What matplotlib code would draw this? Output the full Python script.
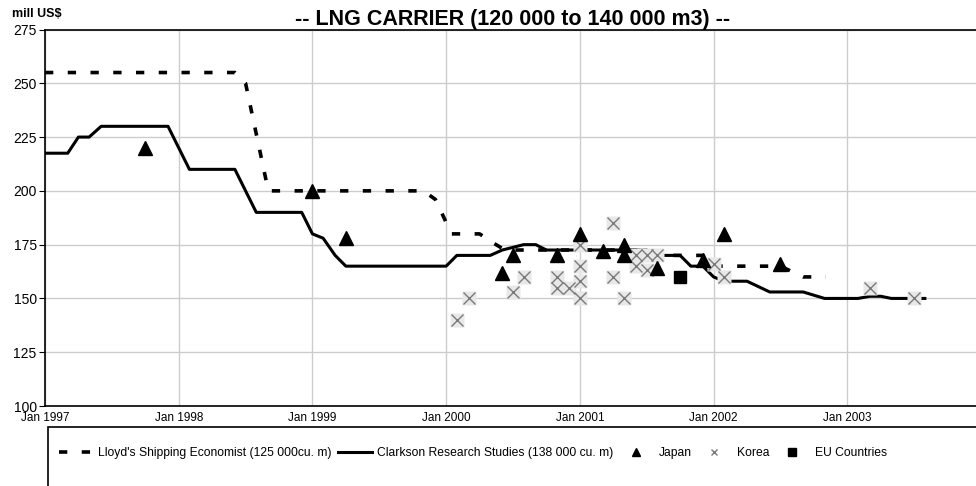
import matplotlib
matplotlib.use("Agg")
import matplotlib.pyplot as plt
from matplotlib.patches import Rectangle

plt.rcParams['font.family'] = ['Liberation Sans', 'DejaVu Sans']

# données (années décimales, millions US$)
years = [1997, 1998, 1999, 2000, 2001, 2002, 2003]
year_labels = ["Jan 1997", "Jan 1998", "Jan 1999", "Jan 2000", "Jan 2001", "Jan 2002", "Jan 2003"]
y_ticks = [100, 125, 150, 175, 200, 225, 250, 275]

lloyd_x = [1997.0, 1998.42, 1998.5, 1998.67, 1999.83, 1999.92, 2000.04, 2000.25, 2000.36,
           2000.44, 2001.42, 2001.5, 2001.92, 2002.0, 2002.5, 2002.67, 2002.84]
lloyd_y = [255, 255, 250, 200, 200, 196, 180, 180, 175.5,
           172.5, 172.5, 170, 170, 165, 165, 160, 160]

clarkson_x = [1997.0, 1997.17, 1997.25, 1997.33, 1997.42, 1997.92, 1998.08, 1998.42, 1998.58,
              1998.92, 1999.0, 1999.08, 1999.17, 1999.25, 2000.0, 2000.08, 2000.33, 2000.42,
              2000.58, 2000.67, 2000.75, 2001.5, 2001.58, 2001.75, 2001.83, 2001.92, 2002.0,
              2002.08, 2002.25, 2002.42, 2002.67, 2002.83, 2003.08, 2003.17, 2003.25, 2003.33,
              2003.58]
clarkson_y = [217.5, 217.5, 225, 225, 230, 230, 210, 210, 190,
              190, 180, 178, 170, 165, 165, 170, 170, 172.5,
              175, 175, 172.5, 172.5, 170, 170, 165, 165, 160,
              158, 158, 153, 153, 150, 150, 151, 151, 150,
              150]

japan_x = [1997.75, 1999.0, 1999.25, 2000.42, 2000.5, 2000.83, 2001.0, 2001.17, 2001.33,
           2001.33, 2001.58, 2001.92, 2002.08, 2002.5]
japan_y = [220, 200, 178, 162, 170, 170, 180, 172, 175, 170, 164, 168, 180, 166]

korea_x = [2000.08, 2000.17, 2000.5, 2000.58, 2000.83, 2000.83, 2000.92, 2001.0, 2001.0,
           2001.0, 2001.0, 2001.25, 2001.25, 2001.33, 2001.42, 2001.42, 2001.5, 2001.5,
           2001.58, 2002.0, 2002.08, 2003.17, 2003.5]
korea_y = [140, 150, 153, 160, 160, 155, 155, 175, 165,
           158, 150, 185, 160, 150, 170, 165, 170, 163,
           170, 166, 160, 155, 150]

eu_x = [2001.75]
eu_y = [160]

fig = plt.figure(figsize=(9.76, 4.86), dpi=100)
ax = fig.add_axes([45 / 976, 1 - 406 / 486, 936 / 976, 376.5 / 486])

ax.plot(lloyd_x, lloyd_y, color='black', lw=2.6, dashes=(2.3, 4.0),
        dash_capstyle='butt', label="Lloyd's Shipping Economist (125 000cu. m)", zorder=3)
ax.plot(clarkson_x, clarkson_y, color='black', lw=2.2, solid_joinstyle='round',
        label="Clarkson Research Studies (138 000 cu. m)", zorder=3)

# fond gris clair des croix (Corée)
ax.plot(korea_x, korea_y, ls='none', marker='s', ms=10, color='#e8e8e8', mec='none', zorder=4)
ax.plot(korea_x, korea_y, ls='none', marker='x', ms=8, mew=1.0, color='#7a7a7a',
        label="Korea", zorder=5)
ax.plot(japan_x, japan_y, ls='none', marker='^', ms=9.5, color='black', label="Japan", zorder=6)
ax.plot(eu_x, eu_y, ls='none', marker='s', ms=9, color='black', label="EU Countries", zorder=6)

ax.set_xlim(1997, 2004)
ax.set_ylim(100, 275)
ax.set_xticks(years)
ax.set_xticklabels(year_labels, fontsize=8.5)
ax.set_yticks(y_ticks)
ax.tick_params(axis='y', labelsize=10, length=4, pad=2, color='black')
ax.tick_params(axis='x', length=0, pad=4)
ax.grid(True, color='#cccccc', lw=1)
ax.set_axisbelow(True)
for s in ['left', 'bottom', 'top']:
    ax.spines[s].set_linewidth(1.2)
ax.spines['right'].set_visible(False)

ax.set_title("-- LNG CARRIER (120 000 to 140 000 m3) --", fontsize=15.5, fontweight='bold', pad=3)
fig.text(12 / 976, 1 - 17 / 486, "mill US$", fontsize=9, fontweight='bold')

# cadre de légende qui déborde de l'image
fig.add_artist(Rectangle((48 / 976, -0.1), 1.0, 0.1 + 1 - 427 / 486, transform=fig.transFigure,
                         fill=False, edgecolor='black', lw=1.2, clip_on=False))

h, l = ax.get_legend_handles_labels()
order = [0, 1, 3, 2, 4]
fig.legend([h[i] for i in order], [l[i] for i in order], loc='center left',
           bbox_to_anchor=(48 / 976, 1 - 453 / 486), ncol=5, frameon=False, fontsize=8.7,
           handlelength=2.8, handletextpad=0.45, columnspacing=0.5, markerscale=0.6)

fig.savefig("out.png", dpi=100)
